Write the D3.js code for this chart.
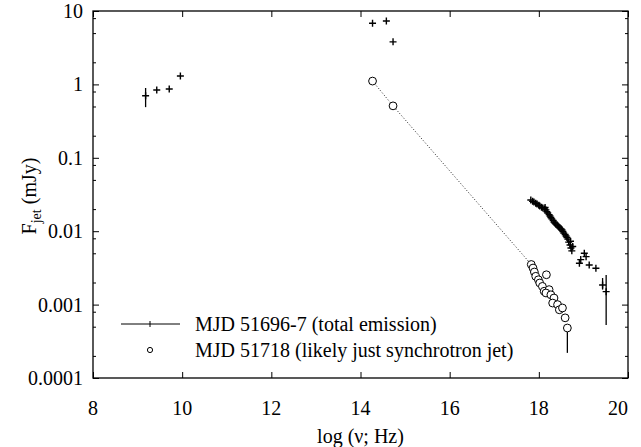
<!DOCTYPE html>
<html>
<head>
<meta charset="utf-8">
<script src="https://cdn.jsdelivr.net/npm/d3@7"></script>
<style>
  body { margin: 0; background: #fff; }
  svg { font-family: "Liberation Serif", "Times New Roman", serif; }
</style>
</head>
<body>
<svg id="chart" width="641" height="447"></svg>
<script>
// MJD 51696-7 (total emission) : log(nu), F (mJy)
const totRadio = [[9.18, 0.70], [9.43, 0.84], [9.71, 0.865], [9.96, 1.30]];
const totOpt = [[14.27, 6.8], [14.58, 7.3], [14.73, 3.8]];
const totXray = [
  [17.82, 0.0266], [17.86, 0.0255], [17.89, 0.0250], [17.93, 0.0240], [17.96, 0.0235],
  [18.00, 0.0226], [18.02, 0.0220], [18.06, 0.0212], [18.09, 0.0207], [18.13, 0.0200],
  [18.16, 0.0195], [18.18, 0.0185], [18.20, 0.0177], [18.23, 0.0168], [18.25, 0.0161],
  [18.27, 0.0154], [18.29, 0.0147], [18.32, 0.0140], [18.34, 0.0133], [18.36, 0.0129],
  [18.38, 0.0125], [18.41, 0.0121], [18.43, 0.0118], [18.45, 0.0114], [18.47, 0.0111],
  [18.50, 0.0107], [18.52, 0.0104], [18.54, 0.0099], [18.56, 0.0094], [18.59, 0.0090],
  [18.61, 0.0086], [18.63, 0.0082], [18.65, 0.0078], [18.67, 0.0071], [18.70, 0.0065],
  [18.72, 0.0059], [18.74, 0.0054], [18.76, 0.0062], [18.71, 0.0073], [18.14, 0.0210],
  [18.91, 0.00366], [18.94, 0.0041], [19.02, 0.0050], [19.06, 0.0045],
  [19.13, 0.00347], [19.28, 0.00313], [19.43, 0.00185], [19.51, 0.0015]
];
// error bars: x, low, high
const totErr = [[9.18, 0.49, 0.893], [19.51, 0.000527, 0.00253], [19.43, 0.0016, 0.0023]];

// MJD 51718 (likely just synchrotron jet)
const synOpt = [[14.27, 1.11], [14.73, 0.51]];
const synXray = [
  [17.83, 0.00352], [17.87, 0.00315], [17.90, 0.00278], [17.93, 0.00243], [18.17, 0.00255],
  [17.99, 0.00218], [18.02, 0.00197], [18.08, 0.00177], [18.12, 0.00152], [18.23, 0.00160],
  [18.16, 0.00144], [18.27, 0.00136], [18.34, 0.00123], [18.31, 0.00105], [18.42, 0.00100],
  [18.46, 0.00085], [18.53, 0.00090], [18.59, 0.00066], [18.64, 0.00048]
];
const synErr = [[18.64, 0.00022, 0.00048]];
// dotted line: optical to first X-ray point
const synLine = [[14.27, 1.11], [14.73, 0.51], [17.83, 0.00352]];

const xTicks = [8, 10, 12, 14, 16, 18, 20];
const yTicks = [10, 1, 0.1, 0.01, 0.001, 0.0001];
const yTickLabels = ["10", "1", "0.1", "0.01", "0.001", "0.0001"];
const legendLabels = ["MJD 51696-7 (total emission)", "MJD 51718 (likely just synchrotron jet)"];

const svg = d3.select("#chart");
const margin = {top: 11, right: 13, bottom: 69, left: 93};
const W = 641, H = 447;
const fs = 20;

const x = d3.scaleLinear().domain([8, 20]).range([margin.left, W - margin.right]);
const y = d3.scaleLog().domain([0.0001, 10]).range([H - margin.bottom, margin.top]);

// axes (ticks inward, mirrored)
const axB = d3.axisBottom(x).tickValues(xTicks).tickSize(-6).tickFormat("");
const axT = d3.axisTop(x).tickValues(xTicks).tickSize(-6).tickFormat("");
const axL = d3.axisLeft(y).tickValues(yTicks).tickSize(-6).tickFormat("");
const axR = d3.axisRight(y).tickValues(yTicks).tickSize(-6).tickFormat("");
let minor = [];
for (let d = -4; d < 1; d++) for (let m of [2, 5, 8]) minor.push(m * Math.pow(10, d));
const axLm = d3.axisLeft(y).tickValues(minor).tickSize(-3).tickFormat("");
const axRm = d3.axisRight(y).tickValues(minor).tickSize(-3).tickFormat("");

svg.append("g").attr("transform", `translate(0,${H - margin.bottom})`).call(axB);
svg.append("g").attr("transform", `translate(0,${margin.top})`).call(axT);
svg.append("g").attr("transform", `translate(${margin.left},0)`).call(axL);
svg.append("g").attr("transform", `translate(${W - margin.right},0)`).call(axR);
svg.append("g").attr("transform", `translate(${margin.left},0)`).call(axLm);
svg.append("g").attr("transform", `translate(${W - margin.right},0)`).call(axRm);
svg.selectAll(".domain").remove();
svg.selectAll(".tick line").attr("stroke", "#000").attr("stroke-width", 1);

svg.append("rect")
  .attr("x", margin.left).attr("y", margin.top)
  .attr("width", W - margin.left - margin.right)
  .attr("height", H - margin.top - margin.bottom)
  .attr("fill", "none").attr("stroke", "#000").attr("stroke-width", 1.3);

// tick labels
svg.append("g").selectAll("text").data(xTicks).join("text")
  .attr("x", (d, i) => x(d) - (i === xTicks.length - 1 ? 10 : 0))
  .attr("y", 415)
  .attr("text-anchor", "middle")
  .attr("font-size", fs)
  .text(d => d);
svg.append("g").selectAll("text").data(yTicks).join("text")
  .attr("x", margin.left - 10)
  .attr("y", d => y(d) + 7)
  .attr("text-anchor", "end")
  .attr("font-size", fs)
  .text((d, i) => yTickLabels[i]);

// axis titles
svg.append("text")
  .attr("x", (margin.left + W - margin.right) / 2).attr("y", 443)
  .attr("text-anchor", "middle").attr("font-size", fs)
  .text("log (\u03bd; Hz)");
const yl = svg.append("text")
  .attr("transform", "translate(36,196) rotate(-90)")
  .attr("text-anchor", "middle").attr("font-size", fs);
yl.append("tspan").text("F");
yl.append("tspan").attr("font-size", 14).attr("dy", 5).text("jet");
yl.append("tspan").attr("dy", -5).text(" (mJy)");

const plot = svg.append("g");

// dotted line
plot.append("path")
  .datum(synLine)
  .attr("fill", "none").attr("stroke", "#222").attr("stroke-width", 1)
  .attr("stroke-dasharray", "1,2")
  .attr("d", d3.line().x(d => x(d[0])).y(d => y(d[1])));

// error bars
plot.append("g").selectAll("line").data(totErr.concat(synErr)).join("line")
  .attr("x1", d => x(d[0])).attr("x2", d => x(d[0]))
  .attr("y1", d => y(d[1])).attr("y2", d => y(d[2]))
  .attr("stroke", "#000").attr("stroke-width", 1.3);

// crosses
const cs = 3.5;
const crossPath = d => {
  const px = x(d[0]), py = y(d[1]);
  return `M${px - cs},${py}H${px + cs}M${px},${py - cs}V${py + cs}`;
};
plot.append("g").selectAll("path").data(totRadio.concat(totOpt, totXray)).join("path")
  .attr("d", crossPath)
  .attr("stroke", "#000").attr("stroke-width", 1.4).attr("fill", "none");

// circles
plot.append("g").selectAll("circle").data(synOpt.concat(synXray)).join("circle")
  .attr("cx", d => x(d[0])).attr("cy", d => y(d[1]))
  .attr("r", 3.9)
  .attr("fill", "#fff").attr("stroke", "#000").attr("stroke-width", 1);

// legend
const lg = svg.append("g");
lg.append("line").attr("x1", 121).attr("x2", 180).attr("y1", 324).attr("y2", 324)
  .attr("stroke", "#000").attr("stroke-width", 1);
lg.append("path").attr("d", "M150,321V327").attr("stroke", "#000").attr("stroke-width", 1);
lg.append("circle").attr("cx", 150).attr("cy", 350).attr("r", 2.6)
  .attr("fill", "#fff").attr("stroke", "#000").attr("stroke-width", 1);
lg.selectAll("text").data(legendLabels).join("text")
  .attr("x", 195).attr("y", (d, i) => 331 + i * 26)
  .attr("font-size", fs)
  .text(d => d);
</script>
</body>
</html>
